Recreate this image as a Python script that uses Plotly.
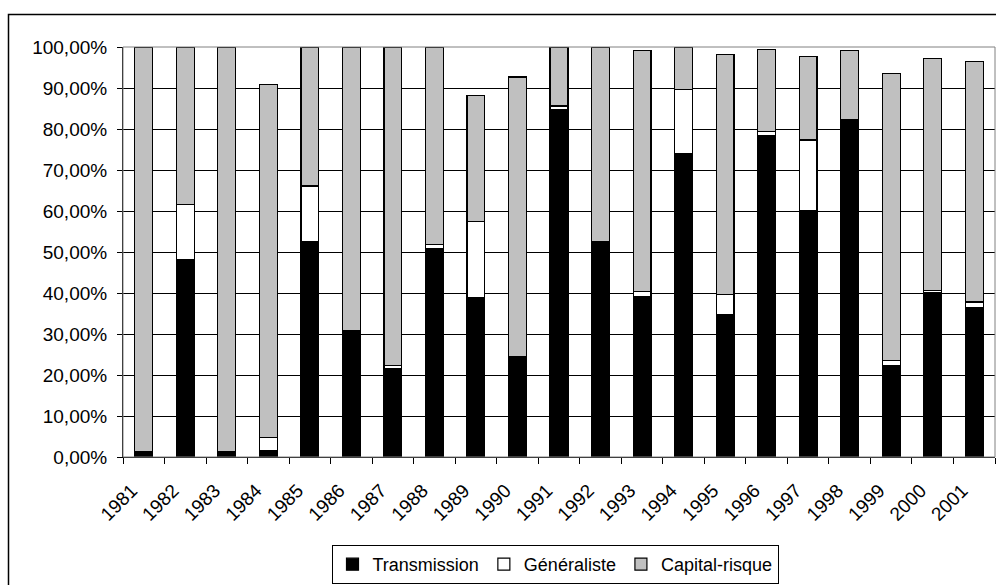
import plotly.graph_objects as go

years = ["1981", "1982", "1983", "1984", "1985", "1986", "1987", "1988", "1989", "1990", "1991",
         "1992", "1993", "1994", "1995", "1996", "1997", "1998", "1999", "2000", "2001"]

# values in percent
transmission = [1.2, 48.2, 1.2, 1.6, 52.6, 30.8, 21.5, 50.9, 38.8, 24.6, 84.7,
                 52.6, 39.2, 74.1, 34.7, 78.3, 60.2, 82.4, 22.3, 40.0, 36.5]
generaliste = [0.0, 13.3, 0.0, 3.1, 13.5, 0.0, 0.8, 1.0, 18.7, 0.0, 0.9,
               0.0, 1.2, 15.5, 5.0, 1.0, 17.1, 0.0, 1.3, 0.7, 1.3]
capital_risque = [98.8, 38.5, 98.8, 86.1, 33.9, 69.2, 77.7, 48.1, 30.7, 68.1, 14.4,
                  47.4, 58.7, 10.4, 58.4, 20.1, 20.4, 16.7, 69.9, 56.5, 58.7]

series_names = ["Transmission", "Généraliste", "Capital-risque"]
series_colors = ["#000000", "#FFFFFF", "#C0C0C0"]

FONT = "Liberation Sans, Arial, sans-serif"

fig = go.Figure()
for name, vals, col in zip(series_names, [transmission, generaliste, capital_risque], series_colors):
    fig.add_trace(go.Bar(
        x=years, y=[v / 100 for v in vals], name=name,
        marker=dict(color=col, line=dict(color="#000000", width=1.2)),
    ))

W, H = 996, 585
L, R, T, B = 123, 1, 47, 585 - 462
pw, ph = W - L - R, H - T - B

def px(x):  # page x -> paper
    return (x - L) / pw

def py(y):  # page y -> paper
    return (H - B - y) / ph

fig.update_layout(
    width=W, height=H,
    barmode="stack", bargap=0.57,
    separators=", ",
    paper_bgcolor="white", plot_bgcolor="white",
    margin=dict(l=L, r=R, t=T, b=B, pad=0),
    font=dict(family=FONT, size=18, color="#000000"),
    showlegend=True,
    legend=dict(
        orientation="h", x=px(555), xanchor="center", y=py(551), yanchor="top",
        bordercolor="#000000", borderwidth=1, bgcolor="white",
        font=dict(family=FONT, size=18), traceorder="normal",
        itemwidth=30, tracegroupgap=0,
    ),
    xaxis=dict(
        type="category", tickangle=-45, tickson="boundaries",
        ticks="outside", ticklen=6, tickcolor="#000000",
        showline=True, linecolor="#000000", linewidth=1,
        showgrid=False, ticklabelstandoff=14, ticklabelshift=-12,
        tickfont=dict(family=FONT, size=19),
    ),
    yaxis=dict(
        range=[0, 1], tickvals=[i / 10 for i in range(11)], tickformat=".2%",
        ticks="outside", ticklen=5, tickcolor="#000000",
        showline=True, linecolor="#000000", linewidth=1,
        showgrid=True, gridcolor="#000000", gridwidth=1,
        ticklabelstandoff=6,
        tickfont=dict(family=FONT, size=19), zeroline=False,
    ),
    shapes=[
        dict(type="rect", xref="paper", yref="paper", x0=0, x1=1, y0=0, y1=1,
             line=dict(color="#808080", width=1), fillcolor="rgba(0,0,0,0)", layer="above"),
        dict(type="rect", xref="paper", yref="paper", x0=px(8.5), x1=px(1010), y0=py(600), y1=py(14),
             line=dict(color="#000000", width=1.5), fillcolor="rgba(0,0,0,0)", layer="above"),
    ],
)

fig.write_html("out.html", config={"displayModeBar": False},
               post_script="document.body.style.margin='0';document.body.style.overflow='hidden';")
